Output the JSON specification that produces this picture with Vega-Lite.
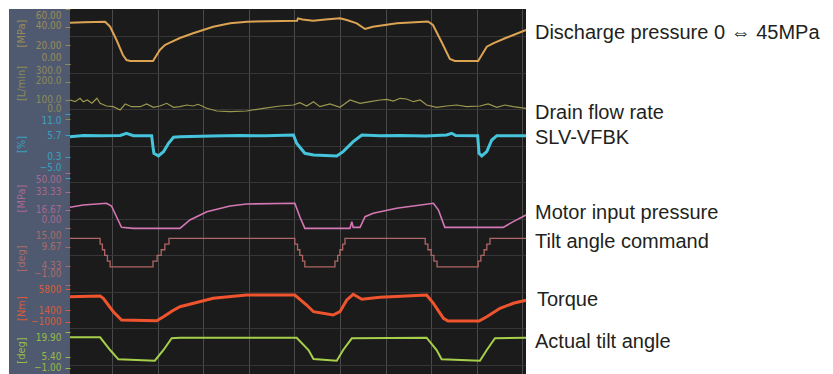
{
  "$schema": "https://vega.github.io/schema/vega-lite/v6.json",
  "width": 517,
  "height": 365,
  "autosize": {"type": "none"},
  "padding": {"left": 9, "top": 9, "right": 307, "bottom": 0},
  "background": "#4f5a70",
  "config": {
    "view": {"fill": "#1b1b1b", "stroke": null},
    "axis": {"labelOverlap": false, "labelFlush": false, "domain": false, "grid": false, "titleFontWeight": "normal", "labelFontSize": 10, "labelFont": "Liberation Sans Narrow, DejaVu Sans Condensed, sans-serif", "titleFont": "Liberation Sans Narrow, DejaVu Sans Condensed, sans-serif"}
  },
  "datasets": {
    "discharge": [
      {"t":0,"v":45.0},{"t":0.3,"v":45.6},{"t":0.77,"v":46.1},{"t":0.88,"v":40.6},{"t":1.02,"v":26.0},{"t":1.16,"v":9.6},{"t":1.24,"v":4.1},{"t":1.32,"v":3.0},{"t":1.82,"v":3.0},{"t":1.97,"v":15.1},{"t":2.08,"v":20.5},{"t":2.19,"v":23.1},{"t":2.41,"v":28.2},{"t":2.70,"v":33.4},{"t":3.14,"v":40.6},{"t":3.51,"v":44.3},{"t":3.88,"v":46.1},{"t":4.98,"v":47.2},{"t":5.0,"v":49.8},{"t":5.1,"v":48.6},{"t":5.33,"v":47.2},{"t":5.6,"v":48.4},{"t":5.92,"v":49.8},{"t":6.07,"v":47.9},{"t":6.29,"v":44.3},{"t":6.47,"v":38.1},{"t":6.64,"v":40.6},{"t":7.17,"v":44.3},{"t":7.85,"v":46.3},{"t":7.96,"v":42.5},{"t":8.16,"v":22.7},{"t":8.33,"v":5.2},{"t":8.44,"v":3.0},{"t":8.95,"v":3.0},{"t":9.14,"v":18.7},{"t":9.28,"v":22.4},{"t":9.54,"v":27.9},{"t":10,"v":37.0}
    ],
    "drain": [
      {"t":0,"v":101.4},{"t":0.11,"v":92.1},{"t":0.22,"v":110.7},{"t":0.29,"v":92.1},{"t":0.38,"v":101.4},{"t":0.48,"v":83.3},{"t":0.59,"v":110.7},{"t":0.66,"v":83.3},{"t":0.80,"v":68.5},{"t":0.95,"v":64.7},{"t":1.10,"v":46.6},{"t":1.21,"v":79.5},{"t":1.35,"v":64.7},{"t":1.54,"v":64.7},{"t":1.68,"v":79.5},{"t":1.83,"v":61.4},{"t":1.97,"v":68.5},{"t":2.12,"v":83.3},{"t":2.27,"v":61.4},{"t":2.41,"v":64.7},{"t":2.56,"v":74.0},{"t":2.70,"v":68.5},{"t":2.81,"v":77.8},{"t":3.00,"v":55.9},{"t":3.22,"v":41.1},{"t":3.51,"v":37.3},{"t":3.87,"v":41.1},{"t":4.24,"v":55.9},{"t":4.61,"v":68.5},{"t":4.90,"v":74.0},{"t":5.04,"v":86.6},{"t":5.19,"v":68.5},{"t":5.34,"v":92.1},{"t":5.48,"v":64.7},{"t":5.70,"v":79.5},{"t":5.92,"v":61.4},{"t":6.14,"v":101.4},{"t":6.36,"v":83.3},{"t":6.58,"v":92.1},{"t":6.80,"v":101.4},{"t":6.95,"v":105.2},{"t":7.09,"v":95.9},{"t":7.24,"v":110.7},{"t":7.38,"v":106.8},{"t":7.53,"v":92.1},{"t":7.68,"v":101.4},{"t":7.82,"v":74.0},{"t":8.04,"v":61.4},{"t":8.26,"v":68.5},{"t":8.48,"v":74.0},{"t":8.70,"v":64.7},{"t":8.99,"v":68.5},{"t":9.17,"v":79.5},{"t":9.36,"v":61.4},{"t":9.54,"v":74.0},{"t":9.72,"v":64.7},{"t":10,"v":55.9}
    ],
    "slv": [
      {"t":0,"v":5.33},{"t":0.3,"v":5.6},{"t":0.66,"v":5.58},{"t":1.10,"v":5.62},{"t":1.24,"v":6.18},{"t":1.39,"v":5.58},{"t":1.79,"v":5.58},{"t":1.82,"v":2.75},{"t":1.84,"v":1.18},{"t":1.94,"v":0.5},{"t":2.05,"v":1.58},{"t":2.16,"v":3.68},{"t":2.27,"v":5.18},{"t":2.41,"v":5.33},{"t":3.1,"v":5.5},{"t":3.73,"v":5.62},{"t":4.3,"v":5.55},{"t":4.90,"v":5.75},{"t":4.97,"v":3.68},{"t":5.15,"v":1.18},{"t":5.34,"v":0.75},{"t":5.6,"v":0.6},{"t":5.85,"v":0.5},{"t":5.99,"v":1.58},{"t":6.21,"v":4.08},{"t":6.40,"v":5.75},{"t":6.8,"v":5.55},{"t":7.24,"v":5.62},{"t":7.8,"v":5.5},{"t":8.26,"v":5.75},{"t":8.37,"v":6.18},{"t":8.46,"v":5.62},{"t":8.94,"v":5.58},{"t":8.97,"v":1.18},{"t":9.03,"v":0.5},{"t":9.14,"v":1.58},{"t":9.25,"v":4.5},{"t":9.36,"v":5.58},{"t":10,"v":5.58}
    ],
    "motor": [
      {"t":0,"v":18.9},{"t":0.29,"v":21.0},{"t":0.80,"v":22.6},{"t":0.91,"v":20.1},{"t":1.02,"v":10.3},{"t":1.13,"v":0.6},{"t":1.39,"v":-0.3},{"t":2.41,"v":-0.3},{"t":2.63,"v":7.3},{"t":3.00,"v":14.9},{"t":3.51,"v":20.1},{"t":3.87,"v":21.9},{"t":4.93,"v":22.6},{"t":5.04,"v":10.3},{"t":5.15,"v":-0.3},{"t":6.14,"v":-0.3},{"t":6.18,"v":5.8},{"t":6.21,"v":0.6},{"t":6.36,"v":0.6},{"t":6.47,"v":10.3},{"t":6.65,"v":13.4},{"t":7.16,"v":18.0},{"t":7.97,"v":22.6},{"t":8.08,"v":16.4},{"t":8.22,"v":0.6},{"t":9.50,"v":0.6},{"t":9.72,"v":5.8},{"t":10,"v":11.9}
    ],
    "command": [
      {"t":0,"v":12.1},{"t":0.66,"v":10.5},{"t":0.71,"v":8.9},{"t":0.76,"v":7.3},{"t":0.82,"v":5.7},{"t":0.88,"v":4.1},
      {"t":1.82,"v":5.7},{"t":1.91,"v":7.3},{"t":2.00,"v":8.9},{"t":2.08,"v":10.5},{"t":2.17,"v":12.1},
      {"t":4.93,"v":10.5},{"t":4.99,"v":8.9},{"t":5.04,"v":7.3},{"t":5.10,"v":5.7},{"t":5.15,"v":4.1},
      {"t":5.81,"v":5.7},{"t":5.87,"v":7.3},{"t":5.92,"v":8.9},{"t":5.98,"v":10.5},{"t":6.03,"v":12.1},
      {"t":7.79,"v":10.5},{"t":7.85,"v":8.9},{"t":7.92,"v":7.3},{"t":7.98,"v":5.7},{"t":8.05,"v":4.1},
      {"t":8.95,"v":5.7},{"t":9.01,"v":7.3},{"t":9.08,"v":8.9},{"t":9.14,"v":10.5},{"t":9.21,"v":12.1},{"t":10,"v":12.1}
    ],
    "torque": [
      {"t":0,"v":4247},{"t":0.66,"v":4394},{"t":0.73,"v":3911},{"t":0.95,"v":1099},{"t":1.13,"v":-643},{"t":1.90,"v":-790},{"t":2.05,"v":49},{"t":2.24,"v":1246},{"t":2.41,"v":2148},{"t":3.14,"v":3911},{"t":3.87,"v":4604},{"t":4.93,"v":4604},{"t":5.19,"v":2505},{"t":5.34,"v":1099},{"t":5.77,"v":406},{"t":5.92,"v":1099},{"t":6.07,"v":3554},{"t":6.21,"v":4751},{"t":6.40,"v":3701},{"t":6.80,"v":4121},{"t":7.82,"v":4604},{"t":7.97,"v":2862},{"t":8.19,"v":-287},{"t":8.29,"v":-853},{"t":8.97,"v":-853},{"t":9.14,"v":49},{"t":9.43,"v":1812},{"t":9.72,"v":2862},{"t":10,"v":3491}
    ],
    "tilt": [
      {"t":0,"v":16.79},{"t":0.66,"v":16.79},{"t":0.88,"v":9.33},{"t":1.06,"v":3.87},{"t":1.86,"v":3.05},{"t":2.05,"v":9.33},{"t":2.23,"v":16.2},{"t":2.41,"v":16.55},{"t":4.97,"v":16.55},{"t":5.23,"v":9.33},{"t":5.34,"v":4.05},{"t":5.85,"v":3.05},{"t":5.99,"v":9.33},{"t":6.18,"v":16.2},{"t":7.82,"v":16.55},{"t":8.04,"v":9.33},{"t":8.15,"v":3.87},{"t":8.99,"v":3.05},{"t":9.14,"v":9.33},{"t":9.32,"v":16.2},{"t":10,"v":16.55}
    ]
  },
  "layer": [
    {
      "data": {"values": [{}]},
      "layer": [
        {
          "mark": {"type": "rect", "color": "#ffffff"},
          "encoding": {
            "x": {"datum": 10, "type": "quantitative", "scale": {"domain": [-1.338, 10], "nice": false, "zero": false},
                  "axis": {"orient": "bottom", "grid": true, "values": [0.92,1.92,2.92,3.92,4.92,5.92,6.92,7.92,8.92,9.92], "labels": false, "ticks": false, "domain": false, "title": null, "gridColor": "#4a4a4a", "gridWidth": 1}},
            "x2": {"datum": 17},
            "y": {"datum": -20, "type": "quantitative", "scale": {"domain": [-20, 20], "nice": false, "zero": false},
                  "axis": {"orient": "left", "grid": true, "values": [-19,-18,-17,-16,-15,-14,-13,-12,-11,-10,-9,-8,-7,-6,-5,-4,-3,-2,-1,0.0001,1,2,3,4,5,6,7,8,9,10,11,12,13,14,15,16,17,18,19], "labels": false, "ticks": false, "domain": false, "title": null, "gridColor": "#363636", "gridWidth": 1}},
            "y2": {"datum": 21}
          }
        },
        {
          "mark": {"type": "rect", "color": "#ffffff"},
          "encoding": {
            "x": {"datum": -1.54, "type": "quantitative"},
            "x2": {"datum": 17},
            "y": {"datum": 20, "type": "quantitative"},
            "y2": {"datum": 21}
          }
        },
        {
          "mark": {"type": "rect", "color": "#ffffff"},
          "encoding": {
            "x": {"datum": -1.54, "type": "quantitative"},
            "x2": {"datum": -1.338},
            "y": {"datum": -20, "type": "quantitative"},
            "y2": {"datum": 21}
          }
        }
      ]
    },
    {
      "data": {"values": [{}]},
      "mark": {"type": "rect", "color": "#4f5a70"},
      "encoding": {
        "x": {"datum": -1.338, "type": "quantitative"},
        "x2": {"datum": -0.001}
      }
    },
    {
      "data": {"name": "discharge"},
      "layer": [
        {"mark": {"type": "line", "color": "#dca353", "strokeWidth": 2},
         "encoding": {
           "x": {"field": "t", "type": "quantitative", "title": null},
           "y": {"field": "v", "type": "quantitative", "scale": {"domain": [-340, 60], "nice": false, "zero": false},
                 "axis": {"orient": "left", "offset": -61, "values": [60, 40, 20, 0], "format": ".2f", "tickSize": 5, "tickColor": "#9a8a5a", "labelColor": "#9a8a5a", "labelPadding": 4, "title": "[MPa]", "titleColor": "#9a8a5a", "titleFontSize": 11, "titleX": -49, "titleY": 24, "titleAngle": -90, "titleAlign": "center", "titleBaseline": "middle", "zindex": 1,
                          "labelOffset": {"condition": [{"test": "datum.value > 59", "value": 6}, {"test": "datum.value < 1", "value": -6.5}, {"test": "datum.value > 39", "value": -1.5}], "value": 0}}}
         }},
        {"data": {"values": [{}]},
         "mark": {"type": "text", "align": "left", "baseline": "middle", "fontSize": 20, "font": "Liberation Sans, Arial, sans-serif", "color": "#231f20", "text": "Discharge pressure 0 ⇔ 45MPa"},
         "encoding": {"x": {"datum": 10.197, "type": "quantitative"}, "y": {"datum": 33.7, "type": "quantitative"}}}
      ]
    },
    {
      "data": {"name": "drain"},
      "layer": [
        {"mark": {"type": "line", "color": "#9c9850", "strokeWidth": 1.2},
         "encoding": {
           "x": {"field": "t", "type": "quantitative", "title": null},
           "y": {"field": "v", "type": "quantitative", "scale": {"domain": [-1400, 600], "nice": false, "zero": false},
                 "axis": {"orient": "left", "offset": -61, "values": [300, 200, 100, 0], "format": ".1f", "tickSize": 5, "tickColor": "#8c8a58", "labelColor": "#8c8a58", "labelPadding": 4, "title": "[L/min]", "titleColor": "#8c8a58", "titleFontSize": 11, "titleX": -49, "titleY": 74, "titleAngle": -90, "titleAlign": "center", "titleBaseline": "middle", "zindex": 1,
                          "labelOffset": {"condition": [{"test": "datum.value > 299", "value": 7}, {"test": "datum.value < 1", "value": -10}, {"test": "datum.value > 199", "value": -2}], "value": -1}}}
         }},
        {"data": {"values": [{}]},
         "mark": {"type": "text", "align": "left", "baseline": "middle", "fontSize": 20, "font": "Liberation Sans, Arial, sans-serif", "color": "#231f20", "text": "Drain flow rate"},
         "encoding": {"x": {"datum": 10.197, "type": "quantitative"}, "y": {"datum": 30.1, "type": "quantitative"}}}
      ]
    },
    {
      "data": {"name": "slv"},
      "layer": [
        {"mark": {"type": "line", "color": "#45c4dc", "strokeWidth": 3},
         "encoding": {
           "x": {"field": "t", "type": "quantitative", "title": null},
           "y": {"field": "v", "type": "quantitative", "scale": {"domain": [-54, 37.25], "nice": false, "zero": false},
                 "axis": {"orient": "left", "offset": -61, "values": [11, 5.6667, 0.3333, -5], "format": ".1f", "tickSize": 5, "tickColor": "#3aa0c0", "labelColor": "#3aa0c0", "labelPadding": 4, "title": "[%]", "titleColor": "#3aa0c0", "titleFontSize": 11, "titleX": -49, "titleY": 135, "titleAngle": -90, "titleAlign": "center", "titleBaseline": "middle", "zindex": 1,
                          "labelOffset": {"condition": [{"test": "datum.value > 10", "value": 6}, {"test": "datum.value < -4", "value": -11}], "value": 0}}}
         }},
        {"data": {"values": [{}]},
         "mark": {"type": "text", "align": "left", "baseline": "middle", "fontSize": 20, "font": "Liberation Sans, Arial, sans-serif", "color": "#231f20", "text": "SLV-VFBK"},
         "encoding": {"x": {"datum": 10.197, "type": "quantitative"}, "y": {"datum": 5.0, "type": "quantitative"}}}
      ]
    },
    {
      "data": {"name": "motor"},
      "layer": [
        {"mark": {"type": "line", "color": "#d477b4", "strokeWidth": 1.6},
         "encoding": {
           "x": {"field": "t", "type": "quantitative", "title": null},
           "y": {"field": "v", "type": "quantitative", "scale": {"domain": [-133.33, 200], "nice": false, "zero": false},
                 "axis": {"orient": "left", "offset": -61, "values": [50, 33.333, 16.667, 0], "format": ".2f", "tickSize": 5, "tickColor": "#a86890", "labelColor": "#a86890", "labelPadding": 4, "title": "[MPa]", "titleColor": "#a86890", "titleFontSize": 11, "titleX": -49, "titleY": 189, "titleAngle": -90, "titleAlign": "center", "titleBaseline": "middle", "zindex": 1,
                          "labelOffset": {"condition": [{"test": "datum.value > 49", "value": 6}, {"test": "datum.value < 1", "value": -8.7}], "value": 0}}}
         }},
        {"data": {"values": [{}]},
         "mark": {"type": "text", "align": "left", "baseline": "middle", "fontSize": 20, "font": "Liberation Sans, Arial, sans-serif", "color": "#231f20", "text": "Motor input pressure"},
         "encoding": {"x": {"datum": 10.197, "type": "quantitative"}, "y": {"datum": 13.7, "type": "quantitative"}}}
      ]
    },
    {
      "data": {"name": "command"},
      "layer": [
        {"mark": {"type": "line", "color": "#b06666", "strokeWidth": 1.3, "interpolate": "step-after"},
         "encoding": {
           "x": {"field": "t", "type": "quantitative", "title": null},
           "y": {"field": "v", "type": "quantitative", "scale": {"domain": [-25.98, 76.47], "nice": false, "zero": false},
                 "axis": {"orient": "left", "offset": -61, "values": [15, 9.6667, 4.3333, -1], "format": ".2f", "tickSize": 5, "tickColor": "#a86a6a", "labelColor": "#a86a6a", "labelPadding": 4, "title": "[deg]", "titleColor": "#a86a6a", "titleFontSize": 11, "titleX": -49, "titleY": 249, "titleAngle": -90, "titleAlign": "center", "titleBaseline": "middle", "zindex": 1,
                          "labelOffset": {"condition": [{"test": "datum.value > 14", "value": 7}, {"test": "datum.value < 0", "value": -11.7}], "value": -1}}}
         }},
        {"data": {"values": [{}]},
         "mark": {"type": "text", "align": "left", "baseline": "middle", "fontSize": 20, "font": "Liberation Sans, Arial, sans-serif", "color": "#231f20", "text": "Tilt angle command"},
         "encoding": {"x": {"datum": 10.197, "type": "quantitative"}, "y": {"datum": 11.07, "type": "quantitative"}}}
      ]
    },
    {
      "data": {"name": "torque"},
      "layer": [
        {"mark": {"type": "line", "color": "#f0542e", "strokeWidth": 3},
         "encoding": {
           "x": {"field": "t", "type": "quantitative", "title": null},
           "y": {"field": "v", "type": "quantitative", "scale": {"domain": [-11977, 64629], "nice": false, "zero": false},
                 "axis": {"orient": "left", "offset": -61, "values": [5800, 1400, -1000], "format": ".0f", "tickSize": 5, "tickColor": "#d85a3a", "labelColor": "#d85a3a", "labelPadding": 4, "title": "[Nm]", "titleColor": "#d85a3a", "titleFontSize": 11, "titleX": -49, "titleY": 299, "titleAngle": -90, "titleAlign": "center", "titleBaseline": "middle", "zindex": 1}}
         }},
        {"data": {"values": [{}]},
         "mark": {"type": "text", "align": "left", "baseline": "middle", "fontSize": 20, "font": "Liberation Sans, Arial, sans-serif", "color": "#231f20", "text": "Torque"},
         "encoding": {"x": {"datum": 10.24, "type": "quantitative"}, "y": {"datum": 3554, "type": "quantitative"}}}
      ]
    },
    {
      "data": {"name": "tilt"},
      "layer": [
        {"mark": {"type": "line", "color": "#a6d04a", "strokeWidth": 2},
         "encoding": {
           "x": {"field": "t", "type": "quantitative", "title": null},
           "y": {"field": "v", "type": "quantitative", "scale": {"domain": [-4.76, 209.53], "nice": false, "zero": false},
                 "axis": {"orient": "left", "offset": -61, "values": [19.9, 5.4, -1], "format": ".2f", "tickSize": 5, "tickColor": "#98b848", "labelColor": "#98b848", "labelPadding": 4, "title": "[deg]", "titleColor": "#98b848", "titleFontSize": 11, "titleX": -49, "titleY": 341, "titleAngle": -90, "titleAlign": "center", "titleBaseline": "middle", "zindex": 1,
                          "labelOffset": {"condition": {"test": "datum.value > 19", "value": 5.3}, "value": 0}}}
         }},
        {"data": {"values": [{}]},
         "mark": {"type": "text", "align": "left", "baseline": "middle", "fontSize": 20, "font": "Liberation Sans, Arial, sans-serif", "color": "#231f20", "text": "Actual tilt angle"},
         "encoding": {"x": {"datum": 10.197, "type": "quantitative"}, "y": {"datum": 14.03, "type": "quantitative"}}}
      ]
    }
  ],
  "resolve": {"scale": {"y": "independent"}, "axis": {"y": "independent"}}
}
